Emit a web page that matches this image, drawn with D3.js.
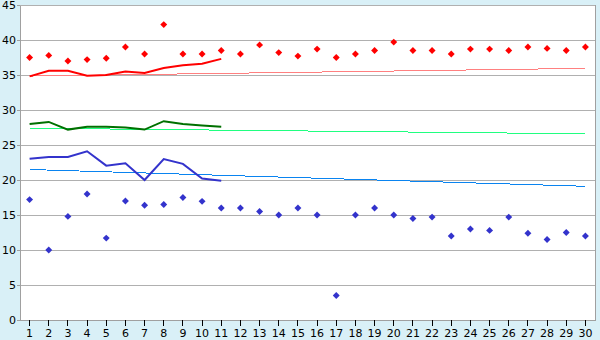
<!DOCTYPE html>
<html>
<head>
<meta charset="utf-8">
<script src="https://cdn.jsdelivr.net/npm/d3@7"></script>
<style>
  body { margin: 0; background: #d9f0f7; }
  svg { display: block; }
  .tick text { font-family: "DejaVu Sans", Verdana, sans-serif; font-size: 11px; fill: #000; }
  .axis path, .axis line { stroke: #a0a0a0; }
  .x-axis .tick line { stroke: #000; }
  .grid line { stroke: #b0b0b0; }
  .grid path { display: none; }
</style>
</head>
<body>
<svg id="chart" width="600" height="340"></svg>
<script>
const days = [1, 2, 3, 4, 5, 6, 7, 8, 9, 10, 11, 12, 13, 14, 15, 16, 17, 18, 19, 20,
              21, 22, 23, 24, 25, 26, 27, 28, 29, 30];
const yTicks = [0, 5, 10, 15, 20, 25, 30, 35, 40, 45];

// daily max / min points
const maxPoints = [37.5, 37.8, 37.0, 37.2, 37.4, 39.0, 38.0, 42.2, 38.0, 38.0,
                   38.5, 38.0, 39.3, 38.2, 37.7, 38.7, 37.5, 38.0, 38.5, 39.7,
                   38.5, 38.5, 38.0, 38.7, 38.7, 38.5, 39.0, 38.8, 38.5, 39.0];
const minPoints = [17.2, 10.0, 14.8, 18.0, 11.7, 17.0, 16.4, 16.5, 17.5, 16.95,
                   16.0, 16.0, 15.5, 15.0, 16.0, 15.0, 3.5, 15.0, 16.0, 15.0,
                   14.5, 14.7, 12.0, 13.0, 12.8, 14.7, 12.4, 11.5, 12.5, 12.0];

// lines for the first 11 days
const lineDays = [1, 2, 3, 4, 5, 6, 7, 8, 9, 10, 11];
const redLine = [34.8, 35.6, 35.6, 34.9, 35.0, 35.5, 35.3, 36.0, 36.4, 36.6, 37.3];
const greenLine = [28.0, 28.3, 27.2, 27.6, 27.6, 27.5, 27.2, 28.4, 28.0, 27.8, 27.6];
const blueLine = [23.05, 23.3, 23.3, 24.1, 22.05, 22.4, 20.0, 23.0, 22.3, 20.2, 19.9];

// trend lines (start / end)
const trendDays = [1, 30];
const redTrend = [34.85, 35.95];
const greenTrend = [27.4, 26.6];
const blueTrend = [21.5, 19.1];

const svg = d3.select('#chart');
const plotLeft = 20, plotRight = 595, plotTop = 5, plotBottom = 320;

const xScale = d3.scaleBand()
    .domain(days)
    .range([plotLeft, plotRight]);

const yScale = d3.scaleLinear()
    .domain([0, 45])
    .range([plotBottom, plotTop]);

const cx = function (d) { return xScale(d) + xScale.bandwidth() / 2; };

svg.append('rect')
    .attr('x', plotLeft)
    .attr('y', plotTop)
    .attr('width', plotRight - plotLeft)
    .attr('height', plotBottom - plotTop)
    .attr('fill', '#fff');

svg.append('g')
    .attr('class', 'grid')
    .attr('transform', 'translate(' + plotLeft + ',0)')
    .call(d3.axisLeft(yScale).tickValues(yTicks.slice(1)).tickSize(-(plotRight - plotLeft)).tickFormat(''))
    .selectAll('line')
    .attr('shape-rendering', 'crispEdges');

svg.append('line')
    .attr('x1', plotRight).attr('x2', plotRight)
    .attr('y1', plotTop).attr('y2', plotBottom)
    .attr('stroke', '#a0a0a0')
    .attr('shape-rendering', 'crispEdges');

svg.append('g')
    .attr('class', 'axis x-axis')
    .attr('transform', 'translate(0,' + plotBottom + ')')
    .attr('shape-rendering', 'crispEdges')
    .call(d3.axisBottom(xScale).tickSize(6).tickSizeOuter(0).tickPadding(3));

svg.append('g')
    .attr('class', 'axis')
    .attr('transform', 'translate(' + plotLeft + ',0)')
    .attr('shape-rendering', 'crispEdges')
    .call(d3.axisLeft(yScale).tickValues(yTicks).tickSize(3).tickSizeOuter(0).tickPadding(1));

svg.selectAll('.axis').attr('font-family', null).attr('font-size', null);

function drawLine(xs, ys, color, width, crisp) {
    const gen = d3.line()
        .x(function (d, i) { return cx(xs[i]); })
        .y(function (d) { return yScale(d); });
    svg.append('path')
        .datum(ys)
        .attr('d', gen)
        .attr('fill', 'none')
        .attr('stroke', color)
        .attr('stroke-width', width)
        .attr('shape-rendering', crisp ? 'crispEdges' : 'auto');
}

drawLine(trendDays, redTrend, '#ff8080', 1, true);
drawLine(trendDays, greenTrend, '#20ff80', 1, true);
drawLine(trendDays, blueTrend, '#0a84f0', 1, true);

drawLine(lineDays, redLine, '#ff0000', 2, false);
drawLine(lineDays, greenLine, '#007000', 2, false);
drawLine(lineDays, blueLine, '#3333cc', 2, false);

const marker = d3.symbol().type(d3.symbolSquare).size(24);

function drawPoints(values, color) {
    svg.append('g')
        .selectAll('path')
        .data(values)
        .enter()
        .append('path')
        .attr('d', marker)
        .attr('transform', function (d, i) {
            return 'translate(' + cx(days[i]) + ',' + yScale(d) + ') rotate(45)';
        })
        .attr('fill', color);
}

drawPoints(maxPoints, '#ff0000');
drawPoints(minPoints, '#3333cc');
</script>
</body>
</html>
